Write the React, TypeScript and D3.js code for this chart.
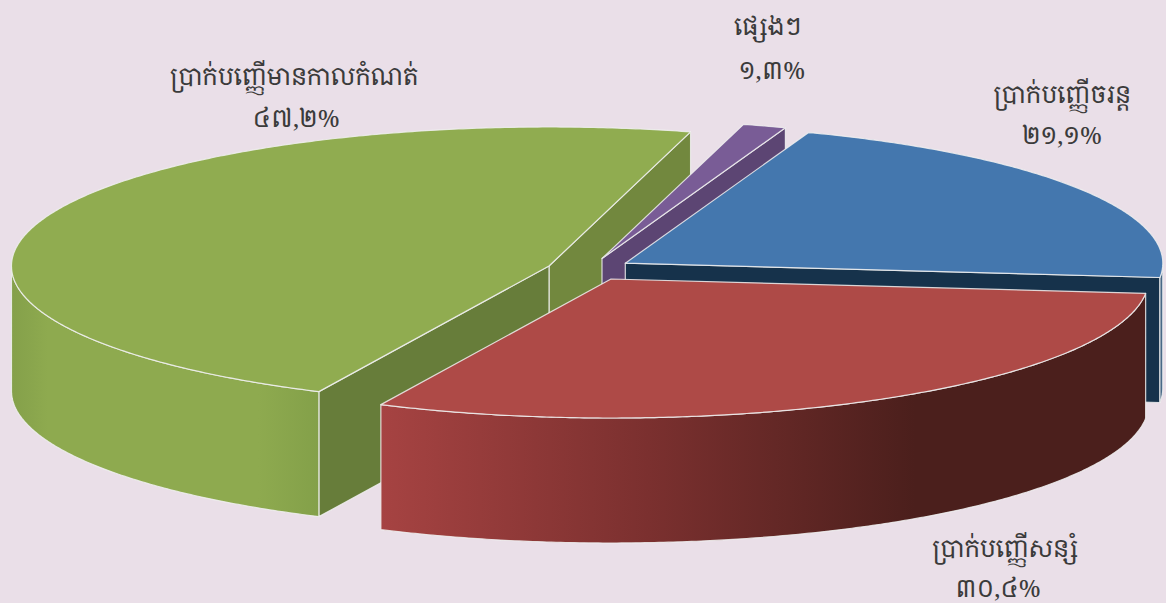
import React from "react";
import * as d3 from "d3";

// Data
const categories = ["ប្រាក់បញ្ញើមានកាលកំណត់", "ផ្សេងៗ", "ប្រាក់បញ្ញើចរន្ត", "ប្រាក់បញ្ញើសន្សំ"];
const shares = [47.2, 1.3, 21.1, 30.4];
const shareLabels = ["៤៧,២%", "១,៣%", "២១,១%", "៣០,៤%"];

// Layout & style
const W = 1166, H = 603;
const RX = 537.5, RY = 139, DEPTH = 125;
const START_DEG = 205.35;
const apexes: [number, number][] = [[549, 266], [602, 258.5], [625.3, 263.2], [611, 279]];
const topColors = ["#90ac50", "#795c96", "#4477ae", "#ae4a47"];
const endWallColors = ["#72883e", "#5c4573", "#16324b", "#5a2523"];
const startWallColors = ["#677d3a", "#5c4573", "#16324b", "#5a2523"];
// name x, name baseline, share x, share baseline
const labelPos: [number, number, number, number][] = [
  [294, 85, 296, 127],
  [768, 35, 772, 79],
  [1062, 103, 1062, 144],
  [1005, 557, 998, 597],
];
const FONT = "'Noto Serif Khmer','Khmer OS','Khmer OS System',Hanuman,'Noto Sans Khmer','DejaVu Sans',sans-serif";

const x = d3.scaleLinear().domain([-1, 1]).range([-RX, RX]);
const y = d3.scaleLinear().domain([-1, 1]).range([-RY, RY]);
const rad = (deg: number) => (deg * Math.PI) / 180;
const TAU = Math.PI * 2;

const pie = d3.pie<number>().sort(null).startAngle(rad(START_DEG)).endAngle(rad(START_DEG + 360));
const arcs = pie(shares);

const line = d3.line<[number, number]>().curve(d3.curveLinear);

function rimPoints(a0: number, a1: number, c: [number, number], dz: number): [number, number][] {
  const n = Math.max(2, Math.ceil(Math.abs(a1 - a0) / rad(0.5)));
  return d3.range(n + 1).map((i) => {
    const t = a0 + ((a1 - a0) * i) / n;
    return [c[0] + x(Math.sin(t)), c[1] + y(-Math.cos(t)) + dz];
  });
}

function rimPoint(a: number, c: [number, number], dz = 0): [number, number] {
  return [c[0] + x(Math.sin(a)), c[1] + y(-Math.cos(a)) + dz];
}

function norm(a: number) {
  return ((a % TAU) + TAU) % TAU;
}

function wallQuad(a: number, c: [number, number]) {
  const p = rimPoint(a, c);
  const q = rimPoint(a, c, DEPTH);
  return line([c, p, q, [c[0], c[1] + DEPTH], c])! + "Z";
}

function outerWall(start: number, end: number, c: [number, number]) {
  // only the front half of the rim (90°..270°) is visible
  const shift = start >= TAU ? TAU : 0;
  const lo = Math.max(start - shift, rad(90));
  const hi = Math.min(end - shift, rad(270));
  if (hi <= lo) return null;
  const top = rimPoints(lo, hi, c, 0);
  const bot = rimPoints(lo, hi, c, DEPTH).reverse();
  return line([...top, ...bot])! + "Z";
}

const STROKE = "rgba(240,240,240,0.85)";

export default function App() {
  return (
    <svg width={W} height={H} viewBox={`0 0 ${W} ${H}`} style={{ position: "absolute", left: 0, top: 0, background: "#eadfe8" }}>
      <defs>
        <linearGradient id="wall0" gradientUnits="userSpaceOnUse" x1={11} x2={320} y1={0} y2={0}>
          <stop offset="0" stopColor="#84a04a" />
          <stop offset="0.12" stopColor="#8eaa4f" />
          <stop offset="0.8" stopColor="#8eaa4f" />
          <stop offset="1" stopColor="#83a049" />
        </linearGradient>
        <linearGradient id="wall2" gradientUnits="userSpaceOnUse" x1={1156} x2={1164} y1={0} y2={0}>
          <stop offset="0" stopColor="#1b3a55" />
          <stop offset="1" stopColor="#5d7f9f" />
        </linearGradient>
        <linearGradient id="wall3" gradientUnits="userSpaceOnUse" x1={381} x2={915} y1={0} y2={0}>
          <stop offset="0" stopColor="#a64342" />
          <stop offset="0.5" stopColor="#7b302f" />
          <stop offset="1" stopColor="#4b1f1c" />
        </linearGradient>
      </defs>
      {arcs.map((d, i) => {
        const c = apexes[i];
        const a0 = d.startAngle;
        const a1 = d.endAngle;
        const top = line([c, ...rimPoints(a0, a1, c, 0)])! + "Z";
        const wall = outerWall(a0, a1, c);
        const startVisible = norm(a0) > Math.PI;
        const endVisible = norm(a1) < Math.PI;
        return (
          <g key={categories[i]} strokeLinejoin="round">
            {endVisible && <path d={wallQuad(a1, c)} fill={endWallColors[i]} stroke={STROKE} strokeWidth={1.2} />}
            {startVisible && <path d={wallQuad(a0, c)} fill={startWallColors[i]} stroke={STROKE} strokeWidth={1.2} />}
            {wall && <path d={wall} fill={`url(#wall${i})`} stroke={STROKE} strokeWidth={1.2} />}
            <path d={top} fill={topColors[i]} stroke={STROKE} strokeWidth={1.2} />
          </g>
        );
      })}
      {categories.map((name, i) => (
        <g key={name} fill="#3b3b3b" fontFamily={FONT} fontSize={24.4} textAnchor="middle">
          <text x={labelPos[i][0]} y={labelPos[i][1]}>{name}</text>
          <text x={labelPos[i][2]} y={labelPos[i][3]}>{shareLabels[i]}</text>
        </g>
      ))}
    </svg>
  );
}
